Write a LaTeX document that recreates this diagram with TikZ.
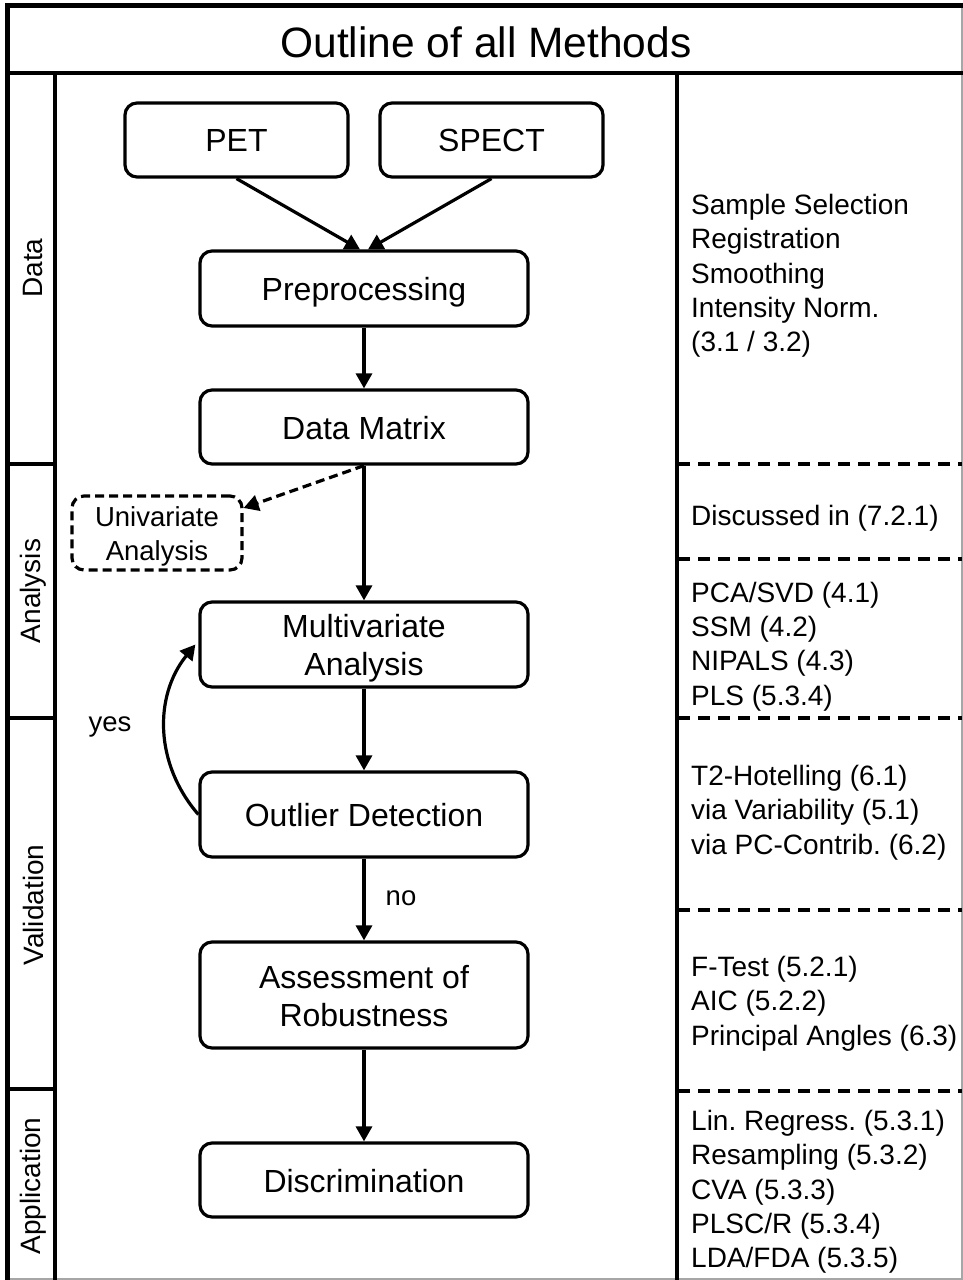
\documentclass[tikz,border=0pt]{standalone}
\usepackage{fontspec}
\setmainfont{Liberation Sans}
\usetikzlibrary{arrows.meta}
\frenchspacing
\begin{document}
\begin{tikzpicture}[x=1pt,y=-1pt,
  box/.style={draw, line width=3.2pt, rounded corners=12pt, minimum width=328pt, minimum height=75pt, align=center, inner sep=0pt, font=\fontsize{32}{38}\selectfont},
  smallbox/.style={box, minimum width=223pt, minimum height=74pt},
  arr/.style={line width=3.2pt, -{Triangle[length=15pt,width=16pt]}},
  side/.style={rotate=90, font=\fontsize{28}{32}\selectfont, inner sep=0pt},
  info/.style={anchor=west, align=left, inner sep=0pt, font=\fontsize{28}{34.3}\selectfont\frenchspacing},
  rdash/.style={line width=3.2pt, dash pattern=on 12pt off 8pt},
  lbl/.style={font=\fontsize{27.5}{32}\selectfont, inner sep=0pt}]
\useasboundingbox (0,0) rectangle (963,1280);
\fill[white] (0,0) rectangle (963,1280);
% frame
\draw[gray!70, line width=1.5pt] (962,5) -- (962,1279) -- (7,1279);
\draw[line width=5pt] (7.5,1280) -- (7.5,5.5) -- (963,5.5);
\draw[line width=3.4pt] (8,73) -- (963,73);
\draw[line width=3.4pt] (55,73) -- (55,1280);
\draw[line width=3.4pt] (677,73) -- (677,1280);
% left dividers
\draw[line width=3.4pt] (8,464) -- (55,464);
\draw[line width=3.4pt] (8,718) -- (55,718);
\draw[line width=3.4pt] (8,1089) -- (55,1089);
% right dashed dividers
\foreach \yy in {464,559,718,910,1091} \draw[rdash] (678,\yy) -- (962,\yy);
% title
\node[font=\fontsize{42.5}{48}\selectfont, inner sep=0pt] (title) at (486,42) {Outline of all Methods};
% side labels
\node[side] (sdata) at (33,268) {Data};
\node[side] (sana) at (33,591) {Analysis};
\node[side] (sval) at (33,905) {Validation};
\node[side] (sapp) at (33,1186) {Application};
% boxes
\node[smallbox] (pet) at (236.5,140) {PET};
\node[smallbox] (spect) at (491.5,140) {SPECT};
\node[box] (pre) at (364,288.5) {};
\node[font=\fontsize{32}{38}\selectfont, inner sep=0pt] (pretxt) at (364,292.5) {Preprocessing};
\node[box, minimum height=74pt] (dm) at (364,427) {};
\node[font=\fontsize{32}{38}\selectfont, inner sep=0pt] (dmtxt) at (364,428) {Data Matrix};
\node[box, minimum width=170pt, minimum height=74pt, dash pattern=on 9pt off 5pt] (uni) at (157,533) {};
\node[font=\fontsize{27.5}{34}\selectfont, inner sep=0pt, align=center] (unitxt) at (157,536) {Univariate\\Analysis};
\node[box, minimum height=85pt] (mva) at (364,644.5) {};
\node[font=\fontsize{32}{38}\selectfont, inner sep=0pt, align=center] (mvatxt) at (364,648) {Multivariate\\Analysis};
\node[box, minimum height=85pt] (od) at (364,814.5) {};
\node[font=\fontsize{32}{38}\selectfont, inner sep=0pt] (odtxt) at (364,815.5) {Outlier Detection};
\node[box, minimum height=106pt] (ar) at (364,995) {};
\node[font=\fontsize{32}{38}\selectfont, inner sep=0pt, align=center] (artxt) at (364,996) {Assessment of\\Robustness};
\node[box, minimum height=74pt] (disc) at (364,1180) {};
\node[font=\fontsize{32}{38}\selectfont, inner sep=0pt] (disctxt) at (364,1181) {Discrimination};
% arrows
\draw[arr] (pet.south) -- ([xshift=-4pt]pre.north);
\draw[arr] (spect.south) -- ([xshift=4pt]pre.north);
\draw[arr] (pre.south) -- (dm.north);
\draw[arr] (dm.south) -- (mva.north);
\draw[arr, dash pattern=on 9pt off 5pt] (dm.south) -- ([yshift=25pt]uni.east);
\draw[arr] (mva.south) -- (od.north);
\draw[arr] (od.south) -- (ar.north);
\draw[arr] (ar.south) -- (disc.north);
\draw[arr] (od.west) to[bend left=40] ([xshift=-3pt]mva.west);
\node[lbl] (no) at (401,898) {no};
\node[lbl] (yes) at (110,727) {yes};
% info text
\node[info] (i1) at (691,276) {Sample Selection\\Registration\\Smoothing\\Intensity Norm.\\(3.1 / 3.2)};
\node[info] (i2) at (691,518) {Discussed in (7.2.1)};
\node[info] (i3) at (691,646.5) {PCA/SVD (4.1)\\SSM (4.2)\\NIPALS (4.3)\\PLS (5.3.4)};
\node[info] (i4) at (691,812.5) {T2-Hotelling (6.1)\\via Variability (5.1)\\via PC-Contrib. (6.2)};
\node[info] (i5) at (691,1003.5) {F-Test (5.2.1)\\AIC (5.2.2)\\Principal Angles (6.3)};
\node[info] (i6) at (691,1192) {Lin. Regress. (5.3.1)\\Resampling (5.3.2)\\CVA (5.3.3)\\PLSC/R (5.3.4)\\LDA/FDA (5.3.5)};
\end{tikzpicture}
\end{document}
